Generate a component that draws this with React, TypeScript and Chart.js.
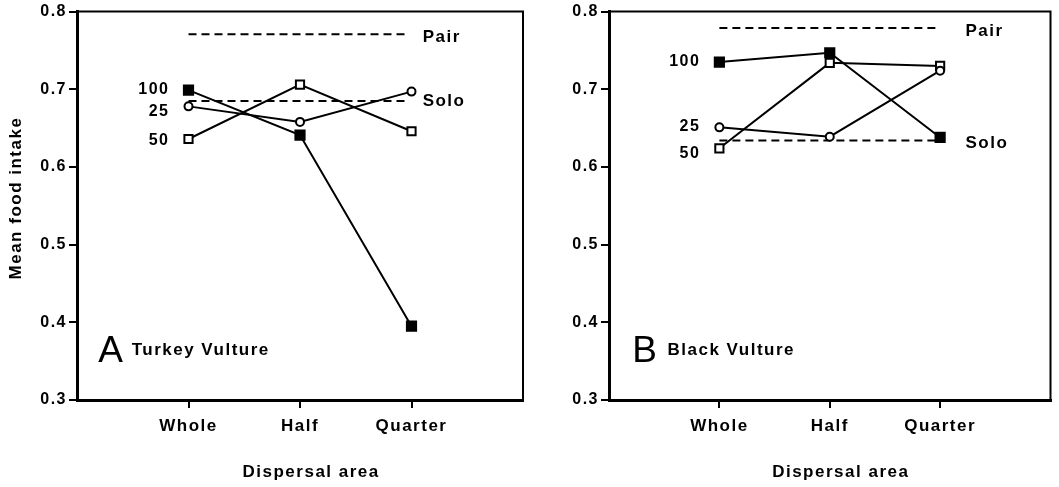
import React, { useEffect, useRef } from 'react';
import { Chart, registerables } from 'chart.js';

Chart.register(...registerables);

// ---- data ----
const categories = ['Whole', 'Half', 'Quarter'];
const categoryX = [1, 2, 3];

const turkey100 = [0.699, 0.641, 0.395];
const turkey25 = [0.678, 0.658, 0.697];
const turkey50 = [0.636, 0.706, 0.646];
const turkeyPair = 0.771;
const turkeySolo = 0.685;

const black100 = [0.735, 0.747, 0.638];
const black25 = [0.651, 0.639, 0.724];
const black50 = [0.624, 0.734, 0.730];
const blackPair = 0.779;
const blackSolo = 0.634;

const seriesNames = ['100', '25', '50'];
const refNames = ['Pair', 'Solo'];
const refLineX = [1, 2.96];

// label anchor values (data space)
const turkeySeriesLabelY = [0.700, 0.671, 0.634];
const blackSeriesLabelY = [0.735, 0.652, 0.617];
const turkeyRefLabelY = [0.767, 0.685];
const blackRefLabelY = [0.775, 0.630];

const yTicks = [0.3, 0.4, 0.5, 0.6, 0.7, 0.8];

const FONT = '"Liberation Sans", Arial, Helvetica, sans-serif';
const SPACING = '1.5px';

type Panel = {
  letter: string;
  title: string;
  s100: number[];
  s25: number[];
  s50: number[];
  pair: number;
  solo: number;
  seriesLabelY: number[];
  refLabelY: number[];
  refLabelX: number;
  letterX: number;
  titleX: number;
  yWidth: number;
  rightPad: number;
  showYTitle: boolean;
};

const panels: Panel[] = [
  {
    letter: 'A',
    title: 'Turkey Vulture',
    s100: turkey100,
    s25: turkey25,
    s50: turkey50,
    pair: turkeyPair,
    solo: turkeySolo,
    seriesLabelY: turkeySeriesLabelY,
    refLabelY: turkeyRefLabelY,
    refLabelX: 3.1,
    letterX: 0.19,
    titleX: 0.49,
    yWidth: 77,
    rightPad: 17,
    showYTitle: true,
  },
  {
    letter: 'B',
    title: 'Black Vulture',
    s100: black100,
    s25: black25,
    s50: black50,
    pair: blackPair,
    solo: blackSolo,
    seriesLabelY: blackSeriesLabelY,
    refLabelY: blackRefLabelY,
    refLabelX: 3.23,
    letterX: 0.21,
    titleX: 0.53,
    yWidth: 69,
    rightPad: 6,
    showYTitle: false,
  },
];

const pts = (vals: number[]) => categoryX.map((x, i) => ({ x, y: vals[i] }));
const refPts = (v: number) => refLineX.map((x) => ({ x, y: v }));

function makeConfig(p: Panel): any {
  const annotate = {
    id: 'annotate',
    beforeLayout(chart: any) {
      chart.ctx.letterSpacing = SPACING;
    },
    beforeDraw(chart: any) {
      chart.ctx.letterSpacing = SPACING;
    },
    afterDraw(chart: any) {
      const { ctx, chartArea: a, scales } = chart;
      const x = scales.x;
      const y = scales.y;
      ctx.save();
      // top & right frame
      ctx.strokeStyle = '#000';
      ctx.lineWidth = 2;
      ctx.beginPath();
      ctx.moveTo(a.left, a.top);
      ctx.lineTo(a.right, a.top);
      ctx.lineTo(a.right, a.bottom);
      ctx.stroke();

      ctx.fillStyle = '#000';
      ctx.textBaseline = 'middle';
      ctx.letterSpacing = SPACING;

      // series labels beside Whole
      ctx.font = `bold 16px ${FONT}`;
      ctx.textAlign = 'right';
      seriesNames.forEach((n, i) => {
        ctx.fillText(n, x.getPixelForValue(categoryX[0]) - 19, y.getPixelForValue(p.seriesLabelY[i]));
      });

      // reference labels
      ctx.font = `bold 17px ${FONT}`;
      ctx.textAlign = 'left';
      refNames.forEach((n, i) => {
        ctx.fillText(n, x.getPixelForValue(p.refLabelX), y.getPixelForValue(p.refLabelY[i]));
      });

      // panel letter + species
      ctx.letterSpacing = '0px';
      ctx.font = `normal 37px ${FONT}`;
      ctx.fillText(p.letter, x.getPixelForValue(p.letterX), y.getPixelForValue(0.362));
      ctx.letterSpacing = SPACING;
      ctx.font = `bold 17px ${FONT}`;
      ctx.fillText(p.title, x.getPixelForValue(p.titleX), y.getPixelForValue(0.364));

      // axis titles
      ctx.textAlign = 'center';
      ctx.fillText('Dispersal area', x.getPixelForValue(2.1), a.bottom + 72);
      if (p.showYTitle) {
        ctx.save();
        ctx.translate(16, y.getPixelForValue(0.56));
        ctx.rotate(-Math.PI / 2);
        ctx.fillText('Mean food intake', 0, 0);
        ctx.restore();
      }
      ctx.restore();
    },
  };

  const lineBase = {
    borderColor: '#000',
    borderWidth: 2,
    pointBorderColor: '#000',
    pointBorderWidth: 2,
    tension: 0,
    order: 1,
  };

  return {
    type: 'line',
    data: {
      datasets: [
        {
          ...lineBase,
          label: '100',
          data: pts(p.s100),
          pointStyle: 'rect',
          pointRadius: 6.5,
          pointBackgroundColor: '#000',
        },
        {
          ...lineBase,
          label: '25',
          data: pts(p.s25),
          pointStyle: 'circle',
          pointRadius: 4,
          pointBackgroundColor: '#fff',
        },
        {
          ...lineBase,
          label: '50',
          data: pts(p.s50),
          pointStyle: 'rect',
          pointRadius: 5.8,
          pointBackgroundColor: '#fff',
        },
        {
          label: 'Pair',
          data: refPts(p.pair),
          borderColor: '#000',
          borderWidth: 2,
          borderDash: [8, 5],
          pointRadius: 0,
          order: 10,
        },
        {
          label: 'Solo',
          data: refPts(p.solo),
          borderColor: '#000',
          borderWidth: 2,
          borderDash: [8, 5],
          pointRadius: 0,
          order: 10,
        },
      ],
    },
    options: {
      responsive: false,
      animation: false,
      events: [],
      layout: { padding: { top: 9, right: p.rightPad, left: 0, bottom: 0 } },
      plugins: {
        legend: { display: false },
        tooltip: { enabled: false },
        title: { display: false },
      },
      scales: {
        x: {
          type: 'linear',
          min: 0,
          max: 4,
          afterBuildTicks: (s: any) => {
            s.ticks = categoryX.map((v) => ({ value: v }));
          },
          afterFit: (s: any) => {
            s.height = 87;
          },
          ticks: {
            autoSkip: false,
            maxRotation: 0,
            color: '#000',
            padding: 8,
            font: { family: FONT, size: 17, weight: 'bold' },
            callback: (v: any) => {
              const i = categoryX.indexOf(Number(v));
              return i >= 0 ? categories[i] : '';
            },
          },
          grid: {
            drawOnChartArea: false,
            drawTicks: true,
            tickLength: 8,
            lineWidth: 2,
            color: '#000',
          },
          border: { display: true, width: 3, color: '#000' },
        },
        y: {
          type: 'linear',
          min: 0.3,
          max: 0.8,
          afterBuildTicks: (s: any) => {
            s.ticks = yTicks.map((v) => ({ value: v }));
          },
          afterFit: (s: any) => {
            s.width = p.yWidth;
          },
          ticks: {
            color: '#000',
            padding: 2,
            font: { family: FONT, size: 16, weight: 'bold' },
            callback: (v: any) => Number(v).toFixed(1),
          },
          grid: {
            drawOnChartArea: false,
            drawTicks: true,
            tickLength: 8,
            lineWidth: 2,
            color: '#000',
          },
          border: { display: true, width: 3, color: '#000' },
        },
      },
    },
    plugins: [annotate],
  };
}

function PanelChart({ panel, left, width }: { panel: Panel; left: number; width: number }) {
  const ref = useRef<HTMLCanvasElement | null>(null);
  useEffect(() => {
    if (!ref.current) return;
    const chart = new Chart(ref.current, makeConfig(panel));
    return () => chart.destroy();
  }, [panel]);
  return (
    <canvas
      ref={ref}
      width={width}
      height={487}
      style={{ position: 'absolute', left, top: 0, width, height: 487, display: 'block' }}
    />
  );
}

export default function App() {
  return (
    <div
      style={{
        position: 'absolute',
        left: 0,
        top: 0,
        width: 1059,
        height: 487,
        background: '#fff',
        overflow: 'hidden',
      }}
    >
      <PanelChart panel={panels[0]} left={0} width={540} />
      <PanelChart panel={panels[1]} left={540} width={519} />
    </div>
  );
}
